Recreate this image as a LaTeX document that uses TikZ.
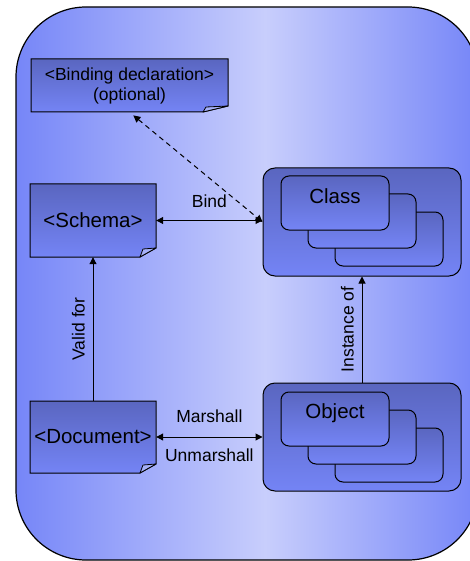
\documentclass[tikz,border=0pt]{standalone}
\usepackage{fontspec}
\setmainfont{Liberation Sans}
\usetikzlibrary{arrows.meta, calc, positioning}

\definecolor{bgedge}{RGB}{118,134,248}
\definecolor{bglight}{RGB}{200,206,252}
\definecolor{boxtop}{RGB}{90,102,192}
\definecolor{boxbottom}{RGB}{116,132,245}
\definecolor{foldblue}{RGB}{165,176,248}

\pgfdeclarehorizontalshading{panelshade}{100bp}{color(0bp)=(bgedge); color(25bp)=(bgedge); color(52bp)=(bglight); color(75bp)=(bgedge); color(100bp)=(bgedge)}

\tikzset{
  boxshade/.style={draw=black, line width=1pt, top color=boxtop, bottom color=boxbottom},
  bigtext/.style={font=\fontsize{20.5}{24}\selectfont, align=center, inner sep=0pt},
  smalltext/.style={font=\fontsize{17.5}{20}\selectfont, align=center, inner sep=0pt},
  bothway/.style={line width=1pt, <->},
  holder/.style={boxshade, rounded corners=12pt, minimum width=198pt, minimum height=108pt},
  card/.style={boxshade, rounded corners=8pt, minimum width=108pt, minimum height=54pt},
}

% document sheet with a turned-down corner
\newcommand{\notebox}[9][bigtext]{%
  \shade[boxshade] (#3,#4) -- (#5,#4) -- (#5,{#6-#8}) -- ({#5-#7},#6) -- (#3,#6) -- cycle;
  \filldraw[fill=foldblue, line width=0.8pt, line join=round] ({#5-#7},#6) -- ({#5-#7+3},{#6-#8+1}) -- (#5,{#6-#8}) -- cycle;
  \node[#1, minimum width={(#5-#3)*1pt}, minimum height={(#6-#4)*1pt}] (#2) at ({(#3+#5)/2},{(#4+#6)/2}) {#9};
}

\begin{document}
\begin{tikzpicture}[x=1pt, y=-1pt, >={Triangle[length=7pt, width=7pt]}]
\useasboundingbox (0,0) rectangle (470,561);

% background panel, cut off at the right
\begin{scope}
  \clip (0,0) rectangle (470,561);
  \shade[draw=black, line width=1.2pt, shading=panelshade, rounded corners=70pt] (16,7) rectangle (478,560);
\end{scope}

% documents
\notebox[smalltext]{bindecl}{31}{59}{228}{112}{25}{6}{<Binding declaration>\\(optional)}
\notebox{schema}{30}{184}{156}{257}{16}{9}{<Schema>}
\notebox{doc}{30}{401}{156}{473}{16}{9}{<Document>}

% class and object stacks
\node[holder] (classbox) at (362,222) {};
\node[holder] (objbox) at (362,437) {};
\foreach \i in {2,1,0} {
  \node[card] (classcard\i) at ({335+27*\i},{203+18*\i}) {};
  \node[card] (objcard\i) at ({335+27*\i},{419+18*\i}) {};
}
\node[bigtext, anchor=base] (classname) at (335,203.5) {Class};
\node[bigtext, anchor=base] (objname) at (335,418.5) {Object};

% connectors
\draw[bothway] (schema.east) -- node[smalltext, above=12pt] (bindlabel) {Bind} (schema.east -| classbox.west);
\draw[bothway, dash pattern=on 5pt off 4pt, shorten <=5pt] (bindecl.south) -- (classbox.west);
\draw[->, line width=1pt] (doc.north) -- (schema.south);
\node[smalltext, rotate=90, anchor=south] (validlabel) at ($(doc.north)!0.5!(schema.south)+(-8,0)$) {Valid for};
\draw[->, line width=1pt] (objbox.north) -- (classbox.south);
\node[smalltext, rotate=90, anchor=south] (instlabel) at ($(objbox.north)!0.5!(classbox.south)+(-8,0)$) {Instance of};
\draw[bothway] (doc.east) -- node[smalltext, above=14pt] (marlabel) {Marshall}
  node[smalltext, below=11pt] (unmarlabel) {Unmarshall} (doc.east -| objbox.west);
\end{tikzpicture}
\end{document}
